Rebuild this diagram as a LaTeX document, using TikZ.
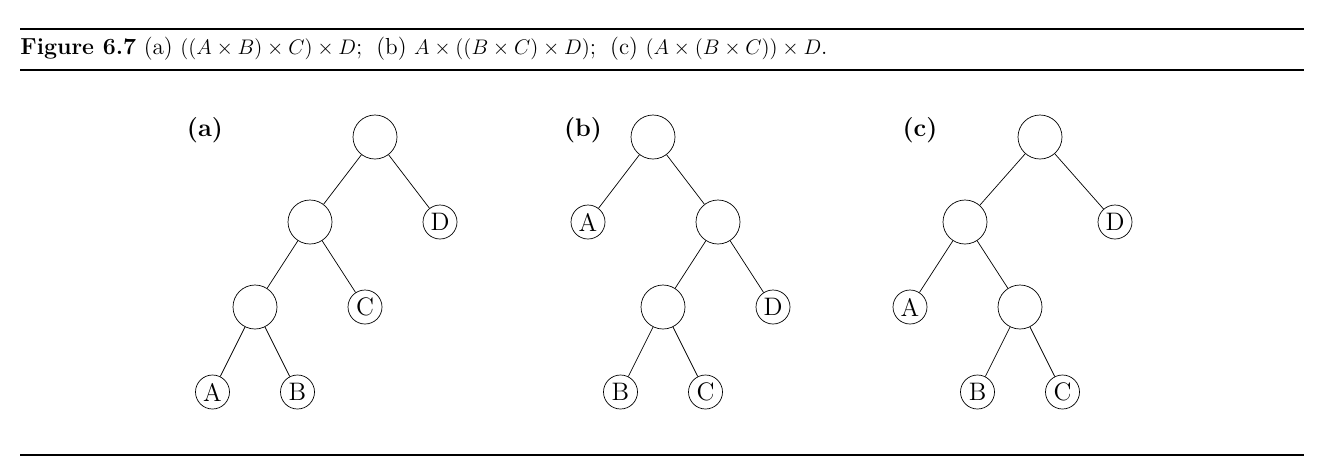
\documentclass[tikz,border=0pt]{standalone}
\usetikzlibrary{positioning}
\begin{document}
\begin{tikzpicture}[grow=down,level distance=1.7cm,
        base/.style={circle,draw,inner sep=0pt},
        inner/.style={base,minimum size=0.88cm},
        leaf/.style={base,minimum size=0.68cm,font=\Large},
        tag/.style={font=\Large\bfseries},
        rule/.style={line width=1.6pt},
        every node/.style=inner,
        level 1/.style={sibling distance=2.6cm},
        level 2/.style={sibling distance=2.2cm},
        level 3/.style={sibling distance=1.7cm}]
        \useasboundingbox (0,0) rectangle (26.48,-9.4);
        % Caption and rules
        \draw[rule] (0.4,-0.58) -- (26.08,-0.58);
        \draw[line width=1.2pt] (0.4,-1.4) -- (26.08,-1.4);
        \draw[line width=1.2pt] (0.4,-9.1) -- (26.08,-9.1);
        \node[draw=none,minimum size=0pt,inner sep=0pt,anchor=base west,font=\fontsize{13.2}{16}\selectfont] (cap) at (0.4,-1.08)
            {\textbf{Figure 6.7} (a) $((A\times B)\times C)\times D$;\; (b) $A\times((B\times C)\times D)$;\; (c) $(A\times(B\times C))\times D$.};
        % Tree (a)
        \node[tag,draw=none,minimum size=0pt] (ta) at (4.1,-2.6) {(a)};
        \begin{scope}[xshift=7.5cm,yshift=-2.74cm]
            \node (ra) {}
                child { node (a1) {}
                    child { node (a2) {}
                        child { node[leaf] (aA) {A} }
                        child { node[leaf] (aB) {B} }
                    }
                    child { node[leaf] (aC) {C} }
                }
                child { node[leaf] (aD) {D} };
        \end{scope}
        % Tree (b)
        \node[tag,draw=none,minimum size=0pt] (tb) at (11.66,-2.6) {(b)};
        \begin{scope}[xshift=13.06cm,yshift=-2.74cm]
            \node (rb) {}
                child { node[leaf] (bA) {A} }
                child { node (b1) {}
                    child { node (b2) {}
                        child { node[leaf] (bB) {B} }
                        child { node[leaf] (bC) {C} }
                    }
                    child { node[leaf] (bD) {D} }
                };
        \end{scope}
        % Tree (c)
        \node[tag,draw=none,minimum size=0pt] (tc) at (18.4,-2.6) {(c)};
        \begin{scope}[xshift=20.8cm,yshift=-2.74cm]
            \node (rc) {}
                child[sibling distance=3cm] { node (c1) {}
                    child { node[leaf] (cA) {A} }
                    child { node (c2) {}
                        child { node[leaf] (cB) {B} }
                        child { node[leaf] (cC) {C} }
                    }
                }
                child[sibling distance=3cm] { node[leaf] (cD) {D} };
        \end{scope}
    \end{tikzpicture}
\end{document}
